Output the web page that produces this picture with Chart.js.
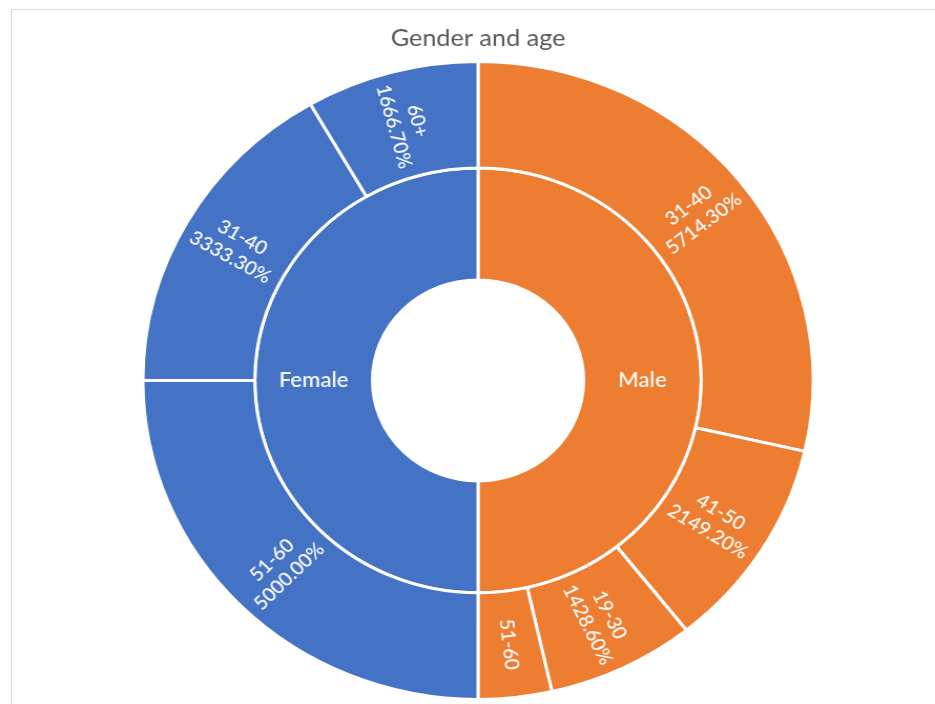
<!DOCTYPE html>
<html>
<head>
<meta charset="utf-8">
<title>Gender and age</title>
<script src="https://cdn.jsdelivr.net/npm/chart.js@4.4.1/dist/chart.umd.min.js"></script>
<style>
  html, body { margin: 0; padding: 0; background: #fff; }
  body { width: 935px; height: 704px; overflow: hidden; position: relative; }
  #frame { position: absolute; left: 11px; top: 9px; width: 940px; height: 710px;
           border-left: 1px solid #d9d9d9; border-top: 1px solid #d9d9d9; }
  /* the sunburst is a little wider than tall, so the canvas gets stretched sideways */
  #sunburst { position: absolute; left: 0; top: 0; transform: scaleX(1.0506); transform-origin: 0 0; }
</style>
</head>
<body>
<div id="frame"></div>
<canvas id="sunburst" width="890" height="704"></canvas>
<script>
const genders = ['Male', 'Female'];
const genderColors = ['#ED7D31', '#4472C4'];

// outer ring, clockwise from 12 o'clock
const ageGroups = ['31-40', '41-50', '19-30', '51-60', '51-60', '31-40', '60+'];
const ageGender = ['Male', 'Male', 'Male', 'Male', 'Female', 'Female', 'Female'];
const agePercent = [5714.3, 2149.2, 1428.6, 708.0, 5000.0, 3333.3, 1666.7];
const showPercent = [true, true, true, false, true, true, true];

const genderTotals = genders.map(g =>
    agePercent.reduce((s, v, i) => ageGender[i] === g ? s + v : s, 0));

const colorOf = g => genderColors[genders.indexOf(g)];

// writes the labels inside each slice; outer ones run along the radius
const ringLabels = {
    id: 'ringLabels',
    afterDatasetsDraw(chart) {
        const ctx = chart.ctx;
        chart.data.datasets.forEach((ds, di) => {
            const meta = chart.getDatasetMeta(di);
            meta.data.forEach((arc, i) => {
                const p = arc.getProps(['x', 'y', 'startAngle', 'endAngle', 'innerRadius', 'outerRadius']);
                const mid = (p.startAngle + p.endAngle) / 2;
                const r = (p.innerRadius + p.outerRadius) / 2;
                const lines = ds.labelLines[i];
                ctx.save();
                ctx.translate(p.x + Math.cos(mid) * r, p.y + Math.sin(mid) * r);
                if (ds.radial) {
                    let a = mid;
                    if (Math.cos(a) < 0) a += Math.PI;
                    ctx.rotate(a);
                }
                ctx.fillStyle = 'rgba(255,255,255,0.93)';
                ctx.font = ds.labelFont;
                ctx.textAlign = 'center';
                ctx.textBaseline = 'middle';
                const lh = ds.lineHeight;
                lines.forEach((t, k) => {
                    ctx.fillText(t, 0, (k - (lines.length - 1) / 2) * lh);
                });
                ctx.restore();
            });
        });
    }
};

new Chart(document.getElementById('sunburst'), {
    type: 'doughnut',
    data: {
        labels: ageGroups,
        datasets: [{
            data: agePercent,
            backgroundColor: ageGender.map(colorOf),
            borderColor: '#ffffff',
            borderWidth: 3,
            weight: 1,
            radial: true,
            labelFont: '600 19px Lato',
            lineHeight: 23,
            labelLines: ageGroups.map((a, i) =>
                showPercent[i] ? [a, agePercent[i].toFixed(2) + '%'] : [a])
        }, {
            data: genderTotals,
            backgroundColor: genderColors,
            borderColor: '#ffffff',
            borderWidth: 3,
            weight: 1.05,
            radial: false,
            labelFont: '600 21px Lato',
            lineHeight: 24,
            labelLines: genders.map(g => [g])
        }]
    },
    options: {
        responsive: false,
        animation: false,
        events: [],
        radius: 319,
        cutout: '31.5%',
        layout: { padding: { left: 20, right: 0, top: 0, bottom: 6 } },
        plugins: {
            legend: { display: false },
            tooltip: { enabled: false },
            title: {
                display: true,
                text: 'Gender and age',
                color: '#595959',
                font: { family: 'Lato', size: 24, weight: 'normal' },
                padding: { top: 24, bottom: 10 }
            }
        }
    },
    plugins: [ringLabels]
});
</script>
</body>
</html>
